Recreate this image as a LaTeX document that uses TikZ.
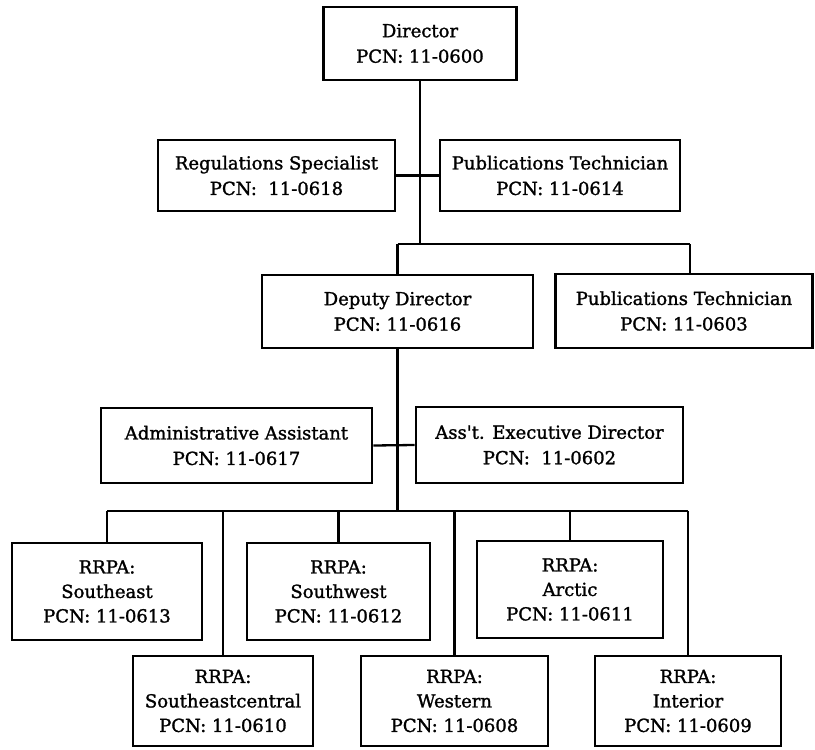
\documentclass[tikz,border=0pt]{standalone}
\usepackage{fontspec}
\setmainfont{DejaVu Serif}
\newfontfamily\chartfont[FakeBold=1.4]{DejaVu Serif}
\begin{document}
\begin{tikzpicture}[x=1pt,y=-1pt,
  box/.style={draw=black, line width=2.8pt, fill=white, inner sep=0pt,
    align=center, font=\chartfont\fontsize{18}{25.5}\selectfont},
  region/.style={box, font=\chartfont\fontsize{18}{24.5}\selectfont},
  link/.style={draw=black, line width=2.3pt}]
\useasboundingbox[fill=white] (0,0) rectangle (815,750);

% top management
\node[box, minimum width=193pt, minimum height=73pt] (dir) at (420,43.5)
  {Director\\PCN: 11-0600};
\node[box, minimum width=237pt, minimum height=71pt] (reg) at (276.5,175.5)
  {Regulations Specialist\\PCN:\ \ 11-0618};
\node[box, minimum width=240pt, minimum height=71pt] (pubA) at (560,175.5)
  {Publications Technician\\PCN: 11-0614};
\node[box, minimum width=271pt, minimum height=73pt] (dep) at (397.5,311.5)
  {Deputy Director\\PCN: 11-0616};
\node[box, minimum width=257pt, minimum height=74pt] (pubB) at (684,311)
  {Publications Technician\\PCN: 11-0603};
\node[box, minimum width=271pt, minimum height=75pt] (adm) at (236.5,445.5)
  {Administrative Assistant\\PCN: 11-0617};
\node[box, minimum width=267pt, minimum height=76pt] (exe) at (549.5,445)
  {Ass't. Executive Director\\PCN:\ \ 11-0602};

% regional program areas
\node[region, minimum width=190pt, minimum height=97pt] (se) at (107,591.5)
  {RRPA:\\Southeast\\PCN: 11-0613};
\node[region, minimum width=183pt, minimum height=97pt] (sw) at (338.5,591.5)
  {RRPA:\\Southwest\\PCN: 11-0612};
\node[region, minimum width=186pt, minimum height=97pt] (ar) at (570,589.5)
  {RRPA:\\Arctic\\PCN: 11-0611};
\node[region, minimum width=180pt, minimum height=90pt] (sec) at (223,701)
  {RRPA:\\Southeastcentral\\PCN: 11-0610};
\node[region, minimum width=187pt, minimum height=90pt] (we) at (454.5,701)
  {RRPA:\\Western\\PCN: 11-0608};
\node[region, minimum width=186pt, minimum height=90pt] (in) at (688,701)
  {RRPA:\\Interior\\PCN: 11-0609};

% junction points
\coordinate (busA) at (397.5,244);
\coordinate (busAend) at (690,244);
\coordinate (busB) at (397.5,511);

% connectors
\draw[link] (dir.south) -- (dir.south |- busA);
\draw[link] (reg.east) -- (pubA.west);
\draw[link] (busA) -- (busAend);
\draw[link] (busA) -- (dep.north);
\draw[link] (busAend) -- (busAend |- pubB.north);
\draw[link] (dep.south) -- (busB);
\draw[link] (adm.east) -- (exe.west);
\draw[link] (se.north |- busB) -- (in.north |- busB);
\foreach \n in {se,sw,ar,sec,we,in}
  \draw[link] (\n.north |- busB) -- (\n.north);
\end{tikzpicture}
\end{document}
